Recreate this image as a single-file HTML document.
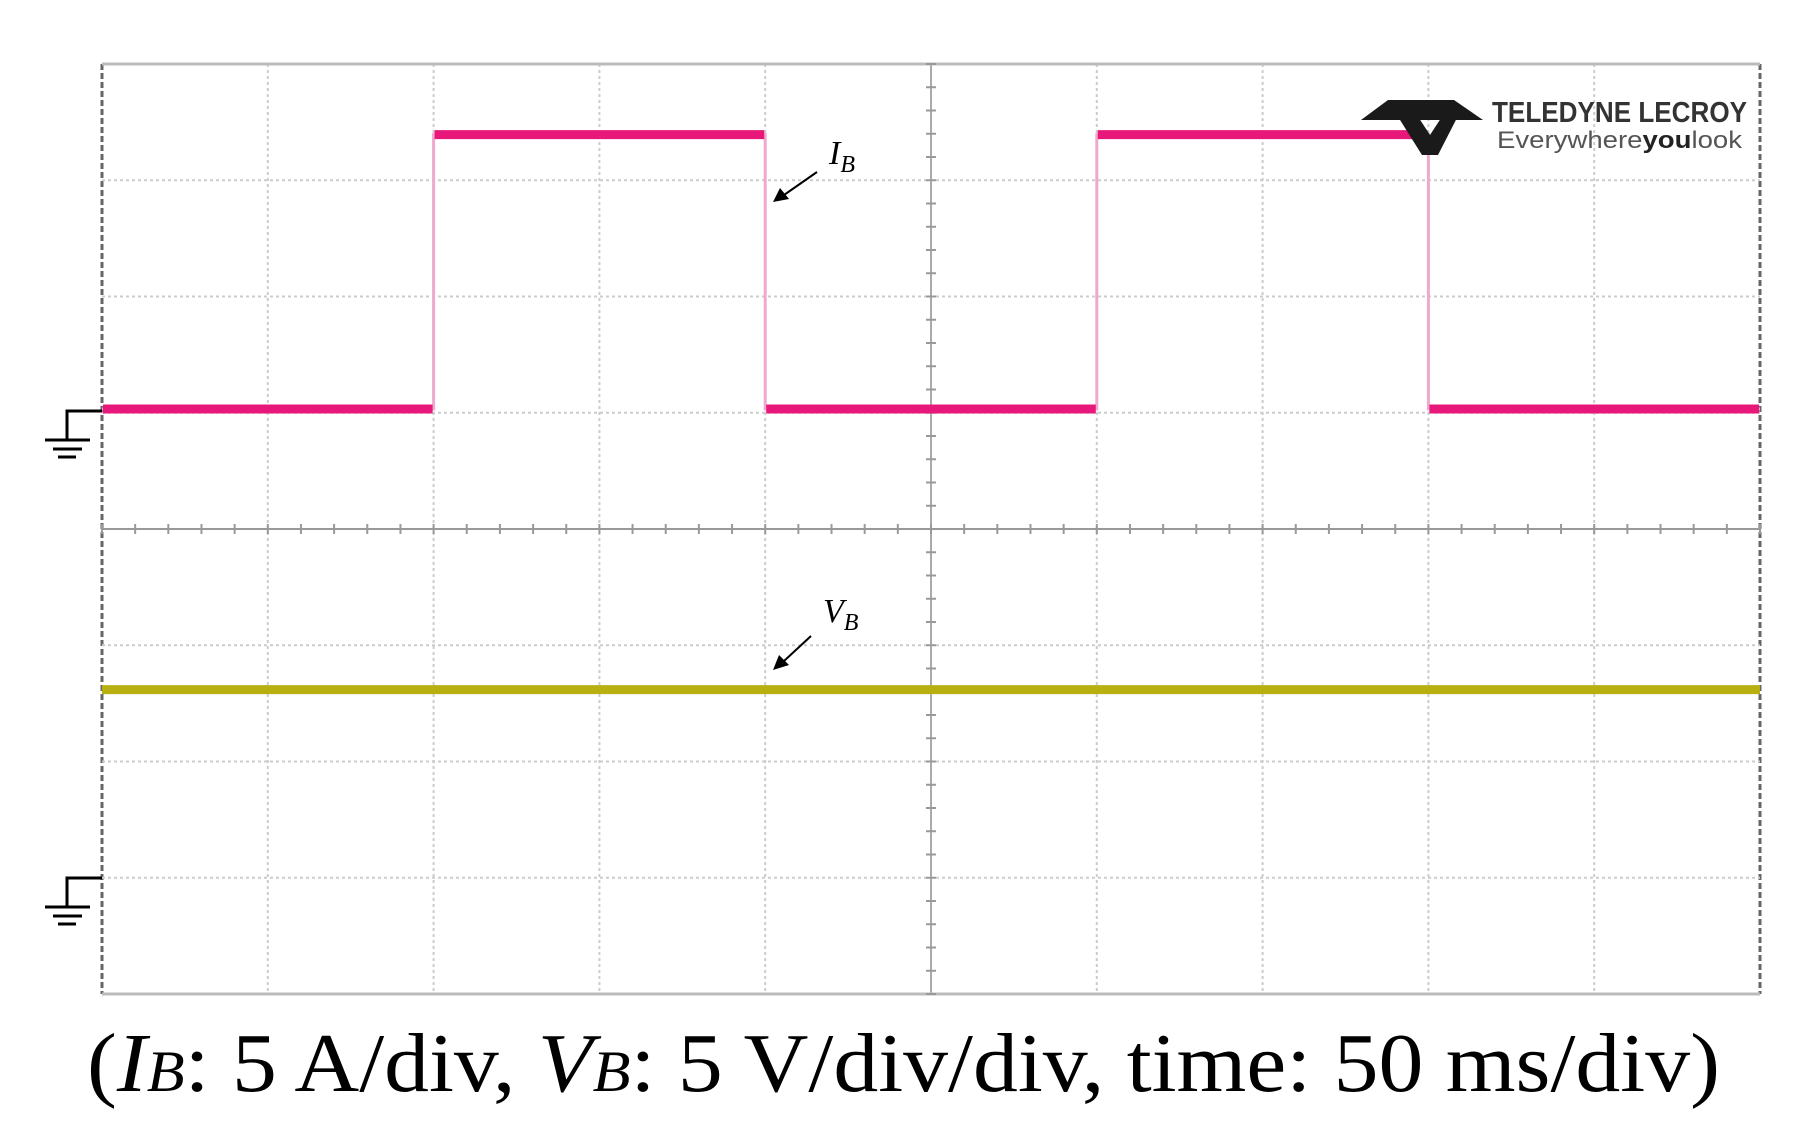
<!DOCTYPE html>
<html><head><meta charset="utf-8"><style>
html,body{margin:0;padding:0;background:#fff;}
svg{display:block;}
</style></head><body>
<svg id="scope" width="1807" height="1140" viewBox="0 0 1807 1140" xmlns="http://www.w3.org/2000/svg">
<rect width="1807" height="1140" fill="#fff"/>
<g id="grid"></g>
<g id="traces"></g>
<g stroke="#000" stroke-width="3" fill="none">
<polyline points="102,411 67,411 67,440"/><line x1="45" y1="440" x2="90" y2="440"/><line x1="53" y1="449" x2="82" y2="449"/><line x1="58" y1="457" x2="76" y2="457"/>
</g>
<g stroke="#000" stroke-width="3" fill="none">
<polyline points="102,878 67,878 67,907"/><line x1="45" y1="907" x2="90" y2="907"/><line x1="53" y1="916" x2="82" y2="916"/><line x1="58" y1="924" x2="76" y2="924"/>
</g>
<g>
<polygon points="1361,120 1388,100 1454,100 1483,120" fill="#1a1a1a"/>
<polygon points="1395,112 1415,112 1430,135 1445,112 1460,112 1438,155 1422,155" fill="#1a1a1a"/>
<text x="1492" y="122" font-family="Liberation Sans, sans-serif" font-size="29" font-weight="bold" fill="#333" textLength="255" lengthAdjust="spacingAndGlyphs">TELEDYNE LECROY</text>
<text x="1497" y="148" font-family="Liberation Sans, sans-serif" font-size="24" fill="#555" textLength="245" lengthAdjust="spacingAndGlyphs">Everywhere<tspan font-weight="bold" fill="#222">you</tspan>look</text>
</g>
<g>
<text x="829" y="164" font-family="Liberation Serif, serif" font-style="italic" font-size="34">I<tspan font-size="24" dy="8">B</tspan></text>
<line x1="817" y1="172" x2="784" y2="195" stroke="#000" stroke-width="2"/>
<polygon points="773,202 780,188 789,199" fill="#000"/>
</g>
<g>
<text x="823" y="622" font-family="Liberation Serif, serif" font-style="italic" font-size="34">V<tspan font-size="24" dy="8">B</tspan></text>
<line x1="811" y1="636" x2="784" y2="661" stroke="#000" stroke-width="2"/>
<polygon points="773,670 779,655 789,665" fill="#000"/>
</g>
<text x="87" y="1091" font-family="Liberation Serif, serif" font-size="84" fill="#000" textLength="1633" lengthAdjust="spacingAndGlyphs">(<tspan font-style="italic">I</tspan><tspan font-style="italic" font-size="58">B</tspan>: 5 A/div, <tspan font-style="italic">V</tspan><tspan font-style="italic" font-size="58">B</tspan>: 5 V/div/div, time: 50 ms/div)</text>
</svg>
<script>
// Data
const edgeTimesDiv = [0, 2, 4, 6, 8, 10];      // time in divisions (50 ms/div)
const ibLevelsA = [0, 11.8, 0, 11.8, 0];       // current per segment, A
const vbLevelV = [8.1, 8.1];                   // voltage at start/end, V
const xDivs = [0,1,2,3,4,5,6,7,8,9,10];
const yDivs = [0,1,2,3,4,5,6,7,8];

const L=102,R=1760,T=64,B=994;
const dx=(R-L)/10, dy=(B-T)/8;
const xS=d=>L+d*dx;
const yDivS=d=>T+d*dy;
const ibGround=411, vbGround=878;
const yIB=a=>ibGround-2-(a/5)*dy;
const yVB=v=>vbGround-(v/5)*dy;
const NS="http://www.w3.org/2000/svg";
const grid=document.getElementById('grid'), tr=document.getElementById('traces');
function mk(tag,attrs,parent){const e=document.createElementNS(NS,tag);for(const k in attrs)e.setAttribute(k,attrs[k]);parent.appendChild(e);return e;}

xDivs.forEach(d=>{
  const edge=(d===0||d===10), mid=d===5;
  const l=mk('line',{x1:xS(d),y1:T,x2:xS(d),y2:B,stroke:edge?'#666':(mid?'#aaa':'#ccc'),'stroke-width':edge?3:2,'stroke-dasharray':edge?'6,3':(mid?'':'3,3')},grid);
  
  
});
yDivs.forEach(d=>{
  const edge=(d===0||d===8), mid=d===4;
  const l=mk('line',{x1:L,y1:yDivS(d),x2:R,y2:yDivS(d),stroke:edge?'#bbb':(mid?'#999':'#ccc'),'stroke-width':edge?3:2,'stroke-dasharray':(edge||mid)?'':'3,3'},grid);
  
  
});
for(let i=0;i<=50;i++){
  const x=L+i*(R-L)/50;
  const t=mk('line',{x1:x,y1:yDivS(4)-5,x2:x,y2:yDivS(4)+5,stroke:'#999','stroke-width':2},grid);
  
  
}
for(let i=0;i<=40;i++){
  const y=T+i*(B-T)/40;
  const t=mk('line',{x1:xS(5)-5,y1:y,x2:xS(5)+5,y2:y,stroke:'#999','stroke-width':2},grid);
  
  
}

let pts=[];
ibLevelsA.forEach((a,i)=>{pts.push(xS(edgeTimesDiv[i])+','+yIB(a));pts.push(xS(edgeTimesDiv[i+1])+','+yIB(a));});
const ibVert=mk('polyline',{points:pts.join(' '),fill:'none',stroke:'#f0a8cc','stroke-width':3},tr);


ibLevelsA.forEach((a,i)=>{
  const s=mk('line',{x1:xS(edgeTimesDiv[i])+1,y1:yIB(a),x2:xS(edgeTimesDiv[i+1])-1,y2:yIB(a),stroke:'#e8187a','stroke-width':9},tr);
  
  
});
const vb=mk('line',{x1:xS(edgeTimesDiv[0]),y1:yVB(vbLevelV[0]),x2:xS(edgeTimesDiv[edgeTimesDiv.length-1]),y2:yVB(vbLevelV[1]),stroke:'#b8b010','stroke-width':9},tr);


</script>
</body></html>
